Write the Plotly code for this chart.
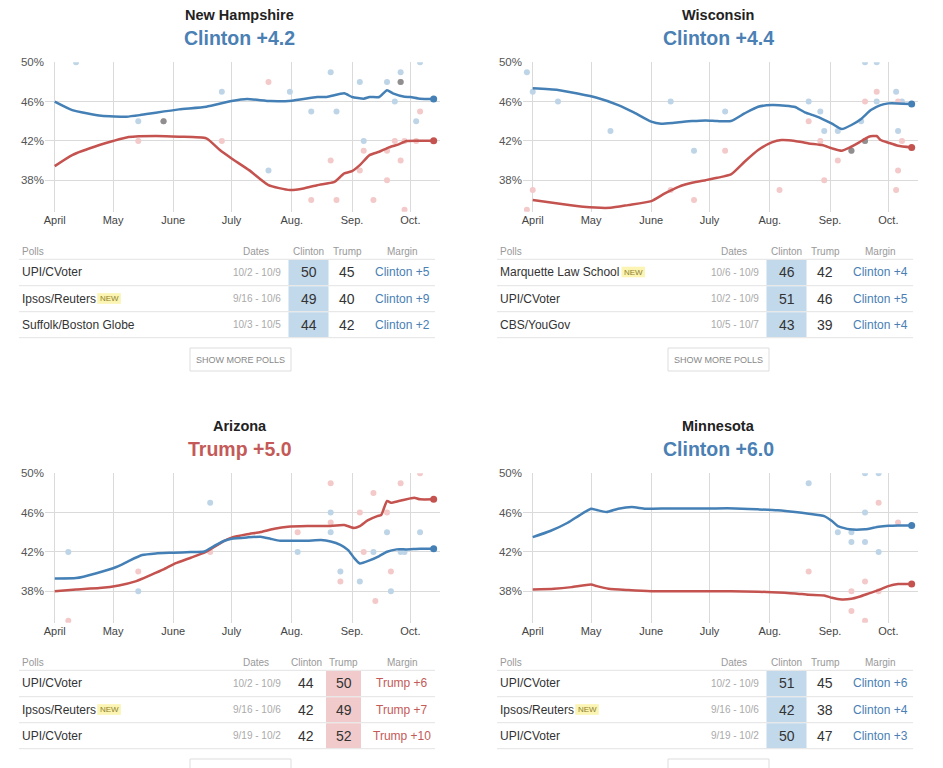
import plotly.graph_objects as go

W, H = 943, 768


def X(px):
    return px / W


def Y(py):
    return 1 - py / H


# ---------------- data ----------------
MONTH_TICKS = ["2016-04-01", "2016-05-01", "2016-06-01", "2016-07-01",
               "2016-08-01", "2016-09-01", "2016-10-01"]
MONTH_LABELS = ["April", "May", "June", "July", "Aug.", "Sep.", "Oct."]
PCT_TICKS = [38, 42, 46, 50]
PCT_LABELS = ["38%", "42%", "46%", "50%"]

STATES = ["New Hampshire", "Wisconsin", "Arizona", "Minnesota"]
LEADERS = ["Clinton", "Clinton", "Trump", "Clinton"]
LEADS = [4.2, 4.4, 5.0, 6.0]
TABLE_HEADERS = ["Polls", "Dates", "Clinton", "Trump", "Margin"]

# New Hampshire
nh_clinton_dates = ["2016-04-01", "2016-04-10", "2016-04-25", "2016-05-08", "2016-05-15", "2016-05-23",
                    "2016-06-04", "2016-06-18", "2016-07-01", "2016-07-09", "2016-07-21", "2016-08-01",
                    "2016-08-14", "2016-08-19", "2016-08-28", "2016-09-01", "2016-09-07", "2016-09-10",
                    "2016-09-15", "2016-09-19", "2016-09-22", "2016-09-28", "2016-10-01", "2016-10-06",
                    "2016-10-13"]
nh_clinton_vals = [46.0, 45.14, 44.57, 44.47, 44.63, 44.87, 45.21, 45.48, 46.06, 46.26, 46.06, 46.10,
                   46.47, 46.47, 46.84, 46.47, 46.30, 46.47, 46.47, 47.15, 46.84, 46.50, 46.47, 46.30,
                   46.26]
nh_trump_dates = ["2016-04-01", "2016-04-10", "2016-04-24", "2016-05-01", "2016-05-09", "2016-05-23",
                  "2016-06-04", "2016-06-18", "2016-06-25", "2016-07-01", "2016-07-10", "2016-07-20",
                  "2016-07-31", "2016-08-07", "2016-08-14", "2016-08-19", "2016-08-23", "2016-08-28",
                  "2016-09-01", "2016-09-05", "2016-09-10", "2016-09-15", "2016-09-20", "2016-09-25",
                  "2016-09-29", "2016-10-06", "2016-10-13"]
nh_trump_vals = [39.44, 40.56, 41.58, 41.99, 42.39, 42.50, 42.43, 42.26, 41.07, 40.22, 39.03, 37.50,
                 37.0, 37.16, 37.50, 37.67, 37.84, 38.69, 38.93, 39.54, 40.56, 40.90, 41.34, 41.65,
                 41.99, 42.02, 42.02]
nh_poll_dates = ["2016-04-12", "2016-05-14", "2016-05-27", "2016-06-26", "2016-07-20", "2016-07-31",
                 "2016-08-11", "2016-08-21", "2016-08-24", "2016-09-05", "2016-09-07", "2016-09-12",
                 "2016-09-19", "2016-09-19", "2016-09-23", "2016-09-26", "2016-09-26", "2016-09-28",
                 "2016-09-28", "2016-10-04", "2016-10-06"]
nh_poll_clinton = [50, 44, 44, 47, 39, 47, 45, 49, 45, 48, 42, None, 48, None, 46, 49, 48, None, None, 44, 50]
nh_poll_trump = [None, 42, 44, 42, 48, None, 36, 40, 36, 39, 41, 36, 41, 38, 42, 40, 48, 42, 35, 42, 45]
nh_table_pollster = ["UPI/CVoter", "Ipsos/Reuters", "Suffolk/Boston Globe"]
nh_table_dates = ["10/2 - 10/9", "9/16 - 10/6", "10/3 - 10/5"]
nh_table_clinton = [50, 49, 44]
nh_table_trump = [45, 40, 42]
nh_table_new = [False, True, False]

# Wisconsin
wi_clinton_dates = ["2016-04-01", "2016-04-14", "2016-05-04", "2016-05-15", "2016-05-23", "2016-06-01",
                    "2016-06-06", "2016-06-13", "2016-06-22", "2016-06-29", "2016-07-05", "2016-07-12",
                    "2016-07-19", "2016-07-26", "2016-08-02", "2016-08-09", "2016-08-14", "2016-08-19",
                    "2016-08-26", "2016-09-02", "2016-09-07", "2016-09-12", "2016-09-17", "2016-09-22",
                    "2016-09-27", "2016-10-01", "2016-10-06", "2016-10-13"]
wi_clinton_vals = [47.35, 47.18, 46.40, 45.65, 44.91, 43.96, 43.75, 43.85, 44.02, 44.09, 44.02, 44.02,
                   44.80, 45.48, 45.65, 45.59, 45.45, 44.91, 44.43, 43.75, 43.21, 43.62, 44.23, 45.14,
                   45.65, 45.82, 45.82, 45.76]
wi_trump_dates = ["2016-04-01", "2016-04-14", "2016-04-27", "2016-05-11", "2016-05-20", "2016-06-01",
                  "2016-06-08", "2016-06-15", "2016-06-22", "2016-06-29", "2016-07-05", "2016-07-12",
                  "2016-07-19", "2016-07-26", "2016-08-02", "2016-08-07", "2016-08-14", "2016-08-21",
                  "2016-08-28", "2016-09-02", "2016-09-07", "2016-09-11", "2016-09-16", "2016-09-21",
                  "2016-09-25", "2016-09-27", "2016-10-01", "2016-10-06", "2016-10-13"]
wi_trump_vals = [35.98, 35.64, 35.30, 35.20, 35.47, 35.87, 36.66, 37.33, 37.74, 38.01, 38.25, 38.59,
                 39.88, 41.07, 41.85, 42.09, 42.0, 41.75, 41.58, 41.24, 41.0, 41.31, 41.85, 42.43,
                 42.50, 42.09, 41.82, 41.51, 41.34]
wi_poll_dates = ["2016-03-29", "2016-04-01", "2016-04-14", "2016-05-11", "2016-06-11", "2016-06-23",
                 "2016-07-09", "2016-08-06", "2016-08-21", "2016-08-27", "2016-08-29", "2016-09-05",
                 "2016-09-12", "2016-09-17", "2016-09-19", "2016-09-19", "2016-09-25", "2016-09-25",
                 "2016-10-05", "2016-10-06", "2016-10-06", "2016-10-08"]
wi_poll_clinton = [49, 47, 46, 43, 46, 41, 45, None, 46, 45, 43, 43, 41, 44, 42, 50, 50, 46, 47, 43, 51, 46]
wi_poll_trump = [35, 37, None, None, 37, 36, 41, 37, 44, 42, 38, 40, 41, None, 42, 46, 47, None, 37, 39, 46, 42]
wi_table_pollster = ["Marquette Law School", "UPI/CVoter", "CBS/YouGov"]
wi_table_dates = ["10/6 - 10/9", "10/2 - 10/9", "10/5 - 10/7"]
wi_table_clinton = [46, 51, 43]
wi_table_trump = [42, 46, 39]
wi_table_new = [True, False, False]

# Arizona
az_clinton_dates = ["2016-04-01", "2016-04-12", "2016-04-22", "2016-05-03", "2016-05-09", "2016-05-16",
                    "2016-05-23", "2016-06-01", "2016-06-10", "2016-06-17", "2016-06-22", "2016-06-27",
                    "2016-07-01", "2016-07-09", "2016-07-16", "2016-07-21", "2016-07-26", "2016-08-02",
                    "2016-08-09", "2016-08-16", "2016-08-21", "2016-08-26", "2016-08-30", "2016-09-02",
                    "2016-09-05", "2016-09-10", "2016-09-15", "2016-09-19", "2016-09-24", "2016-09-29",
                    "2016-10-06", "2016-10-13"]
az_clinton_vals = [39.30, 39.34, 39.81, 40.49, 41.07, 41.68, 41.85, 41.92, 41.99, 42.05, 42.60, 43.11,
                   43.34, 43.48, 43.55, 43.34, 43.14, 43.14, 43.14, 43.21, 43.07, 42.73, 42.19, 41.41,
                   40.83, 41.14, 41.58, 42.02, 42.26, 42.26, 42.33, 42.33]
az_trump_dates = ["2016-04-01", "2016-04-12", "2016-04-24", "2016-05-04", "2016-05-13", "2016-05-20",
                  "2016-05-27", "2016-06-02", "2016-06-10", "2016-06-17", "2016-06-22", "2016-06-27",
                  "2016-07-01", "2016-07-09", "2016-07-16", "2016-07-23", "2016-07-30", "2016-08-09",
                  "2016-08-19", "2016-08-28", "2016-09-02", "2016-09-05", "2016-09-09", "2016-09-14",
                  "2016-09-16", "2016-09-19", "2016-09-21", "2016-09-25", "2016-10-01", "2016-10-03",
                  "2016-10-06", "2016-10-13"]
az_trump_vals = [38.01, 38.18, 38.32, 38.59, 39.03, 39.61, 40.22, 40.83, 41.41, 41.92, 42.50, 43.11,
                 43.45, 43.79, 44.02, 44.36, 44.57, 44.63, 44.63, 44.74, 44.43, 44.63, 45.21, 45.65,
                 45.76, 47.18, 47.01, 47.18, 47.45, 47.52, 47.35, 47.35]
az_poll_dates = ["2016-04-08", "2016-05-14", "2016-06-20", "2016-08-04", "2016-08-21", "2016-08-21",
                 "2016-08-26", "2016-09-05", "2016-09-07", "2016-09-12", "2016-09-13", "2016-09-19",
                 "2016-09-21", "2016-09-26", "2016-09-28", "2016-10-06"]
az_poll_clinton = [42, 38, 47, 42, 44, 46, 40, 39, None, 42, None, 44, 38, 42, 42, 44]
az_poll_trump = [35, 40, 42, 44, 49, 45, 39, 46, 42, 48, 37, 46, 40, 49, 52, 50]
az_table_pollster = ["UPI/CVoter", "Ipsos/Reuters", "UPI/CVoter"]
az_table_dates = ["10/2 - 10/9", "9/16 - 10/6", "9/19 - 10/2"]
az_table_clinton = [44, 42, 42]
az_table_trump = [50, 49, 52]
az_table_new = [False, True, False]

# Minnesota
mn_clinton_dates = ["2016-04-01", "2016-04-10", "2016-04-19", "2016-04-25", "2016-05-01", "2016-05-04",
                    "2016-05-09", "2016-05-15", "2016-05-22", "2016-05-29", "2016-06-10", "2016-07-01",
                    "2016-07-14", "2016-07-26", "2016-08-05", "2016-08-14", "2016-08-21", "2016-08-29",
                    "2016-09-02", "2016-09-05", "2016-09-11", "2016-09-19", "2016-09-26", "2016-10-01",
                    "2016-10-06", "2016-10-13"]
mn_clinton_vals = [43.51, 44.13, 44.97, 45.72, 46.40, 46.26, 46.06, 46.40, 46.57, 46.40, 46.43, 46.43,
                   46.43, 46.33, 46.23, 46.06, 45.89, 45.65, 45.14, 44.63, 44.30, 44.30, 44.57, 44.67,
                   44.70, 44.70]
mn_trump_dates = ["2016-04-01", "2016-04-12", "2016-04-21", "2016-05-01", "2016-05-04", "2016-05-10",
                  "2016-05-20", "2016-06-01", "2016-06-18", "2016-07-05", "2016-07-19", "2016-08-02",
                  "2016-08-14", "2016-08-21", "2016-08-29", "2016-09-02", "2016-09-07", "2016-09-12",
                  "2016-09-16", "2016-09-21", "2016-09-26", "2016-10-01", "2016-10-06", "2016-10-13"]
mn_trump_vals = [38.18, 38.25, 38.42, 38.69, 38.52, 38.25, 38.12, 38.01, 38.01, 38.01, 37.98, 37.91,
                 37.78, 37.64, 37.57, 37.33, 37.16, 37.23, 37.44, 37.78, 38.12, 38.52, 38.73, 38.73]
mn_poll_dates = ["2016-08-21", "2016-09-05", "2016-09-12", "2016-09-12", "2016-09-19", "2016-09-19",
                 "2016-09-19", "2016-09-26", "2016-09-26", "2016-10-06"]
mn_poll_clinton = [49, 44, 43, 44, 43, 46, 50, 42, 50, 51]
mn_poll_trump = [40, None, 38, 36, 39, 35, None, 38, 47, 45]
mn_table_pollster = ["UPI/CVoter", "Ipsos/Reuters", "UPI/CVoter"]
mn_table_dates = ["10/2 - 10/9", "9/16 - 10/6", "9/19 - 10/2"]
mn_table_clinton = [51, 42, 50]
mn_table_trump = [45, 38, 47]
mn_table_new = [False, True, False]

# ---------------- styling ----------------
BLUE = "#4480b5"
RED = "#c4534f"
BLUE_TXT = "#4a80b4"
RED_TXT = "#c45a58"
BLUE_DOT = "#bed4e7"
RED_DOT = "#f3c9c9"
TIE_DOT = "#8f8f8f"
BLUE_HL = "#c2d9ec"
RED_HL = "#f1cbcb"
GRID = "#dadada"
FONT = "Liberation Sans"

panels = [
    dict(state=STATES[0], leader=LEADERS[0], lead=LEADS[0], dx=0, dy=0,
         cd=nh_clinton_dates, cv=nh_clinton_vals, td=nh_trump_dates, tv=nh_trump_vals,
         pd=nh_poll_dates, pc=nh_poll_clinton, pt=nh_poll_trump,
         tp=nh_table_pollster, tdt=nh_table_dates, tc=nh_table_clinton, tt=nh_table_trump,
         tn=nh_table_new, cx=308.5, tx=347, hw=20, badge=97.3),
    dict(state=STATES[1], leader=LEADERS[1], lead=LEADS[1], dx=478, dy=0,
         cd=wi_clinton_dates, cv=wi_clinton_vals, td=wi_trump_dates, tv=wi_trump_vals,
         pd=wi_poll_dates, pc=wi_poll_clinton, pt=wi_poll_trump,
         tp=wi_table_pollster, tdt=wi_table_dates, tc=wi_table_clinton, tt=wi_table_trump,
         tn=wi_table_new, cx=308.5, tx=347, hw=20, badge=143.5),
    dict(state=STATES[2], leader=LEADERS[2], lead=LEADS[2], dx=0, dy=411,
         cd=az_clinton_dates, cv=az_clinton_vals, td=az_trump_dates, tv=az_trump_vals,
         pd=az_poll_dates, pc=az_poll_clinton, pt=az_poll_trump,
         tp=az_table_pollster, tdt=az_table_dates, tc=az_table_clinton, tt=az_table_trump,
         tn=az_table_new, cx=306, tx=343.5, hw=17.5, badge=97.3),
    dict(state=STATES[3], leader=LEADERS[3], lead=LEADS[3], dx=478, dy=411,
         cd=mn_clinton_dates, cv=mn_clinton_vals, td=mn_trump_dates, tv=mn_trump_vals,
         pd=mn_poll_dates, pc=mn_poll_clinton, pt=mn_poll_trump,
         tp=mn_table_pollster, tdt=mn_table_dates, tc=mn_table_clinton, tt=mn_table_trump,
         tn=mn_table_new, cx=308.5, tx=347, hw=20, badge=97.3),
]

fig = go.Figure()
annotations = []
shapes = []
layout_axes = {}

PLOT_L, PLOT_R = 45, 439.5
PLOT_T, PLOT_B = 62.3, 211.7


def ann(text, x, y, size, color, anchor="center", bold=False, family=FONT):
    annotations.append(dict(
        text=f"<b>{text}</b>" if bold else text, x=X(x), y=Y(y), xref="paper", yref="paper",
        xanchor=anchor, yanchor="middle", showarrow=False,
        font=dict(size=size, color=color, family=family)))


def hline(x0, x1, y, color="#e3e3e3", width=1):
    shapes.append(dict(type="line", xref="paper", yref="paper", x0=X(x0), x1=X(x1),
                       y0=Y(y), y1=Y(y), line=dict(color=color, width=width)))


def rect(x0, x1, y0, y1, fill, line_color=None):
    shapes.append(dict(type="rect", xref="paper", yref="paper", x0=X(x0), x1=X(x1),
                       y0=Y(y1), y1=Y(y0), fillcolor=fill,
                       line=dict(color=line_color or fill, width=1 if line_color else 0)))


for i, p in enumerate(panels, start=1):
    sfx = "" if i == 1 else str(i)
    xref, yref = "x" + sfx, "y" + sfx
    dx, dy = p["dx"], p["dy"]

    layout_axes["xaxis" + sfx] = dict(
        domain=[X(PLOT_L + dx), X(PLOT_R + dx)], anchor=yref, type="date",
        range=["2016-03-27", "2016-10-16"], tickvals=MONTH_TICKS, ticktext=MONTH_LABELS,
        showgrid=True, gridcolor=GRID, gridwidth=1, zeroline=False, showline=False,
        ticks="", tickfont=dict(size=11, color="#444", family=FONT), fixedrange=True)
    layout_axes["yaxis" + sfx] = dict(
        domain=[Y(PLOT_B + dy), Y(PLOT_T + dy)], anchor=xref,
        range=[34.8, 50], tickvals=PCT_TICKS, ticktext=PCT_LABELS,
        showgrid=True, gridcolor=GRID, gridwidth=1, zeroline=False, showline=False,
        ticks="", tickfont=dict(size=11.5, color="#555", family=FONT), fixedrange=True)

    # poll dots
    fig.add_trace(go.Scatter(x=p["pd"], y=p["pc"], mode="markers", xaxis=xref, yaxis=yref,
                             marker=dict(size=6, color=BLUE_DOT), hoverinfo="skip"))
    fig.add_trace(go.Scatter(x=p["pd"], y=p["pt"], mode="markers", xaxis=xref, yaxis=yref,
                             marker=dict(size=6, color=RED_DOT), hoverinfo="skip"))
    tie_x = [d for d, c, t in zip(p["pd"], p["pc"], p["pt"]) if c is not None and c == t]
    tie_y = [c for d, c, t in zip(p["pd"], p["pc"], p["pt"]) if c is not None and c == t]
    fig.add_trace(go.Scatter(x=tie_x, y=tie_y, mode="markers", xaxis=xref, yaxis=yref,
                             marker=dict(size=6, color=TIE_DOT), hoverinfo="skip"))
    # trend lines
    fig.add_trace(go.Scatter(x=p["td"], y=p["tv"], mode="lines", xaxis=xref, yaxis=yref,
                             line=dict(color=RED, width=2.5, shape="spline", smoothing=0.5)))
    fig.add_trace(go.Scatter(x=p["cd"], y=p["cv"], mode="lines", xaxis=xref, yaxis=yref,
                             line=dict(color=BLUE, width=2.5, shape="spline", smoothing=0.5)))
    fig.add_trace(go.Scatter(x=[p["td"][-1]], y=[p["tv"][-1]], mode="markers", xaxis=xref, yaxis=yref,
                             marker=dict(size=7, color=RED)))
    fig.add_trace(go.Scatter(x=[p["cd"][-1]], y=[p["cv"][-1]], mode="markers", xaxis=xref, yaxis=yref,
                             marker=dict(size=7, color=BLUE)))

    # titles
    cxp = 240 + dx
    ann(p["state"], cxp, 15 + dy, 14.5, "#222", bold=True)
    lead_col = BLUE_TXT if p["leader"] == "Clinton" else RED_TXT
    ann(f'{p["leader"]} +{p["lead"]:.1f}', cxp, 37.5 + dy, 19.5, lead_col, bold=True)

    # table
    seps = [259.3, 285.7, 311.7, 337.7]
    rows_y = [272, 298.5, 324.5]
    ann(TABLE_HEADERS[0], 20 + dx, 251 + dy, 10, "#999", anchor="left")
    ann(TABLE_HEADERS[1], 271 + dx, 251 + dy, 10, "#999", anchor="right")
    ann(TABLE_HEADERS[2], p["cx"] + dx, 251 + dy, 10, "#999")
    ann(TABLE_HEADERS[3], p["tx"] + dx, 251 + dy, 10, "#999")
    ann(TABLE_HEADERS[4], 402 + dx, 251 + dy, 10, "#999")
    for s in seps:
        hline(19 + dx, 435 + dx, s + dy)
    for r in range(len(p["tp"])):
        c, t = p["tc"][r], p["tt"][r]
        winner_x = p["cx"] if c >= t else p["tx"]
        rect(winner_x - p["hw"] + dx, winner_x + p["hw"] + dx,
             seps[r] + 0.6 + dy, seps[r + 1] - 0.6 + dy, BLUE_HL if c >= t else RED_HL)
        ry = rows_y[r] + dy
        ann(p["tp"][r], 20 + dx, ry, 12, "#333", anchor="left")
        if p["tn"][r]:
            rect(p["badge"] + dx, p["badge"] + 23.5 + dx, ry - 5.3, ry + 5.3, "#fbf4b2")
            ann("NEW", p["badge"] + 11.75 + dx, ry, 8, "#8e8130")
        ann(p["tdt"][r], 283 + dx, ry, 10, "#aaa", anchor="right")
        ann(str(c), p["cx"] + dx, ry, 14, "#333")
        ann(str(t), p["tx"] + dx, ry, 14, "#333")
        if c >= t:
            ann(f"Clinton +{c - t}", 402 + dx, ry, 12, BLUE_TXT)
        else:
            ann(f"Trump +{t - c}", 402 + dx, ry, 12, RED_TXT)
    # button
    rect(190 + dx, 291 + dx, 348 + dy, 371 + dy, "white", line_color="#dddddd")
    ann("SHOW MORE POLLS", 240.5 + dx, 360 + dy, 9, "#888")

fig.update_layout(
    width=W, height=H, autosize=False, template="none",
    margin=dict(l=0, r=0, t=0, b=0, pad=0),
    paper_bgcolor="white", plot_bgcolor="white",
    showlegend=False, font=dict(family=FONT),
    annotations=annotations, shapes=shapes, hovermode=False,
    **layout_axes,
)

fig.write_html("out.html", config={"displayModeBar": False},
               post_script="document.body.style.margin='0px';document.body.style.padding='0px';")
